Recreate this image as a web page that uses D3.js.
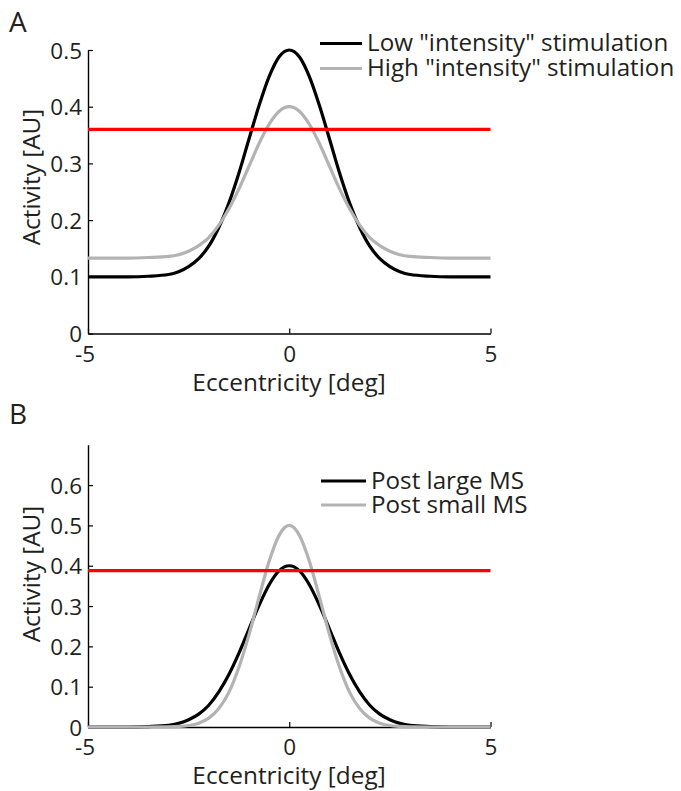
<!DOCTYPE html>
<html>
<head>
<meta charset="utf-8">
<script src="https://cdn.jsdelivr.net/npm/d3@7"></script>
<style>
  html, body { margin: 0; padding: 0; background: #fff; }
  svg text { font-family: "Open Sans", "Noto Sans", sans-serif; fill: #231f20; }
</style>
</head>
<body>
<svg id="chart" width="681" height="791"></svg>
<script>
// ---------- data ----------
const ecc = [-5,-4,-3.5,-3,-2.75,-2.5,-2.25,-2,-1.75,-1.5,-1.25,-1,-0.75,-0.5,-0.25,0,
             0.25,0.5,0.75,1,1.25,1.5,1.75,2,2.25,2.5,2.75,3,3.5,4,5];

// Panel A
const lowIntensity  = [0.100,0.100,0.101,0.104,0.109,0.118,0.132,0.154,0.187,0.230,0.283,0.343,0.402,0.453,0.488,0.500,
                       0.488,0.453,0.402,0.343,0.283,0.230,0.187,0.154,0.132,0.118,0.109,0.104,0.101,0.100,0.100];
const highIntensity = [0.133,0.133,0.134,0.136,0.139,0.145,0.155,0.169,0.191,0.220,0.255,0.295,0.335,0.369,0.392,0.400,
                       0.392,0.369,0.335,0.295,0.255,0.220,0.191,0.169,0.155,0.145,0.139,0.136,0.134,0.133,0.133];
const thresholdA = 0.36;

// Panel B
const postLargeMS = [0,0,0.001,0.004,0.009,0.018,0.032,0.054,0.087,0.130,0.183,0.243,0.302,0.353,0.388,0.400,
                     0.388,0.353,0.302,0.243,0.183,0.130,0.087,0.054,0.032,0.018,0.009,0.004,0.001,0,0];
const postSmallMS = [0,0,0,0.0004,0.0014,0.0038,0.0096,0.022,0.046,0.086,0.148,0.229,0.322,0.411,0.476,0.500,
                     0.476,0.411,0.322,0.229,0.148,0.086,0.046,0.022,0.0096,0.0038,0.0014,0.0004,0,0,0];
const thresholdB = 0.388;

const xTicks  = [-5, 0, 5];
const yTicksA = [0, 0.1, 0.2, 0.3, 0.4, 0.5];
const yTicksB = [0, 0.1, 0.2, 0.3, 0.4, 0.5, 0.6];

const legendA = ['Low "intensity" stimulation', 'High "intensity" stimulation'];
const legendB = ['Post large MS', 'Post small MS'];

// ---------- drawing ----------
const svg = d3.select("#chart");
const BLACK = "#000000", GRAY = "#b3b3b3", RED = "#ff0000";
const TICK_FS = 22.5, LABEL_FS = 24.4, LEGEND_FS = 24.2;

function panel(opt) {
  const x = d3.scaleLinear().domain([-5, 5]).range([88, 490.5]);
  const y = d3.scaleLinear().domain(opt.yDomain).range([opt.yBottom, opt.yTop]);
  const g = svg.append("g");

  // panel letter
  g.append("text").attr("x", 9).attr("y", opt.letterY)
    .style("font-size", "28px").text(opt.letter);

  // axes (MATLAB style: inward ticks, box off)
  const xAxis = d3.axisBottom(x).tickValues(xTicks).tickSizeInner(-5).tickSizeOuter(0)
    .tickFormat(d => d < 0 ? "-" + Math.abs(d) : String(d));
  const gx = g.append("g").attr("transform", `translate(0,${opt.yBottom})`).call(xAxis);
  gx.select(".domain").attr("stroke", "#000").attr("stroke-width", 1.4);
  gx.selectAll(".tick line").attr("stroke", "#000").attr("stroke-width", 1.2);
  gx.selectAll(".tick text").attr("y", 28).attr("dy", 0)
    .attr("text-anchor", d => d < 0 ? "end" : "middle")
    .attr("dx", d => d < 0 ? "0.29em" : 0)
    .style("font-size", TICK_FS + "px").style("font-family", '"Open Sans", sans-serif').attr("fill", "#231f20");

  const yAxis = d3.axisLeft(y).tickValues(opt.yTicks).tickSizeInner(-5).tickSizeOuter(0)
    .tickFormat(d => d === 0 ? "0" : d3.format(".1f")(d));
  const gy = g.append("g").attr("transform", "translate(88,0)").call(yAxis);
  gy.select(".domain").attr("stroke", "#000").attr("stroke-width", 1.4);
  gy.selectAll(".tick line").attr("stroke", "#000").attr("stroke-width", 1.2);
  gy.selectAll(".tick text").attr("x", -6).attr("dy", "0.36em")
    .style("font-size", TICK_FS + "px").style("font-family", '"Open Sans", sans-serif').attr("fill", "#231f20");

  // axis titles
  g.append("text").attr("x", 289).attr("y", opt.yBottom + 57)
    .attr("text-anchor", "middle").style("font-size", LABEL_FS + "px").text("Eccentricity [deg]");
  g.append("text").attr("transform", `translate(40,${opt.yLabelC}) rotate(-90)`)
    .attr("text-anchor", "middle").style("font-size", LABEL_FS + "px").text("Activity [AU]");

  // curves
  const line = d3.line().x((d, i) => x(ecc[i])).y(d => y(d)).curve(d3.curveMonotoneX);
  opt.series.forEach(s => {
    g.append("path").datum(s.values).attr("d", line)
      .attr("fill", "none").attr("stroke", s.color).attr("stroke-width", 3.2)
      .attr("stroke-linejoin", "round");
  });

  // threshold
  g.append("line").attr("x1", x(-5)).attr("x2", x(5))
    .attr("y1", y(opt.threshold)).attr("y2", y(opt.threshold))
    .attr("stroke", RED).attr("stroke-width", 3.3);

  // legend: sample lines + one text block with a line per entry
  opt.series.forEach((s, i) => {
    const ly = opt.legendY + i * opt.legendStep;
    g.append("line").attr("x1", opt.legendX).attr("x2", opt.legendX + opt.legendLen)
      .attr("y1", ly).attr("y2", ly).attr("stroke", s.color).attr("stroke-width", 3.2);
  });
  const lt = g.append("text").style("font-size", LEGEND_FS + "px");
  opt.labels.forEach((lab, i) => {
    lt.append("tspan").attr("x", opt.legendX + opt.legendLen + 5)
      .attr("y", opt.legendY + i * opt.legendStep + 7.5).text(lab);
  });
}

panel({
  letter: "A", letterY: 32,
  yDomain: [0, 0.5], yBottom: 333.5, yTop: 50, yTicks: yTicksA, yLabelC: 177,
  series: [{values: lowIntensity, color: BLACK}, {values: highIntensity, color: GRAY}],
  threshold: thresholdA,
  labels: legendA, legendX: 320, legendLen: 42, legendY: 43.5, legendStep: 25
});

panel({
  letter: "B", letterY: 424,
  yDomain: [0, 0.7], yBottom: 727, yTop: 444.8, yTicks: yTicksB, yLabelC: 574,
  series: [{values: postLargeMS, color: BLACK}, {values: postSmallMS, color: GRAY}],
  threshold: thresholdB,
  labels: legendB, legendX: 321, legendLen: 45, legendY: 481, legendStep: 24
});
</script>
</body>
</html>
